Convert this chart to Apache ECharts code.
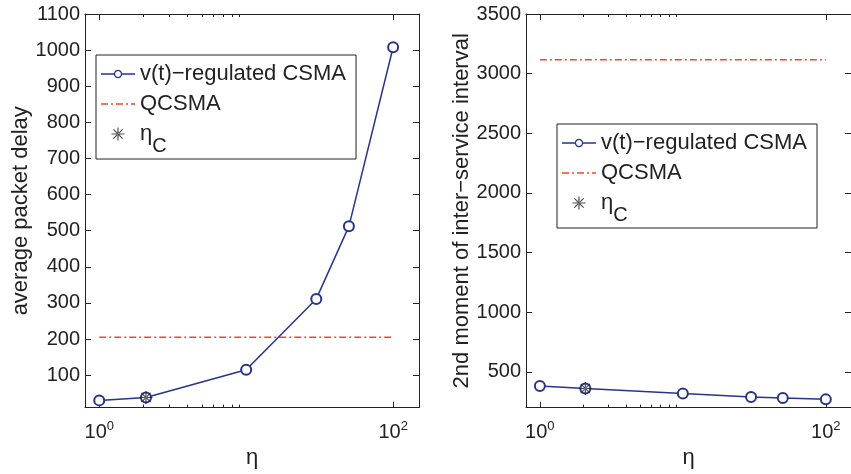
<!DOCTYPE html>
<html>
<head>
<meta charset="utf-8">
<script src="https://cdn.jsdelivr.net/npm/echarts@6/dist/echarts.min.js"></script>
<style>
  html, body { margin: 0; padding: 0; background: #fff; }
  #chart { width: 851px; height: 474px; }
</style>
</head>
<body>
<div id="chart"></div>
<script>
// eta values (x, log scale)
const etaValues = [1, 2.08, 10, 30, 50, 100]
// left panel: average packet delay
const delayValues = [30, 38, 115, 311, 512, 1008]
const qcsmaDelay = 205
// right panel: 2nd moment of inter-service interval
const momentValues = [382, 360, 318, 288, 280, 269]
const qcsmaMoment = 3117
// eta_C marker
const etaC = 2.08
const etaCDelay = 38
const etaCMoment = 360
// axis ticks
const xMajorTicks = [1, 100]
const xMinorTicks = [2, 3, 4, 5, 6, 7, 8, 9]
const delayTicks = [100, 200, 300, 400, 500, 600, 700, 800, 900, 1000, 1100]
const momentTicks = [500, 1000, 1500, 2000, 2500, 3000, 3500]
const names = ['v(t)\u2212regulated CSMA', 'QCSMA', '\u03b7C']

const FONT = '"Liberation Sans", Arial, Helvetica, sans-serif'
const INK = '#222'
const BLUE = '#27338f'
const RED = '#f04a22'

// asterisk made of thin filled bars
const ASTERISK = 'path://M-0.09,-1L0.09,-1L0.09,1L-0.09,1Z' +
  'M-1,-0.09L1,-0.09L1,0.09L-1,0.09Z' +
  'M-0.643,-0.771L0.771,0.643L0.643,0.771L-0.771,-0.643Z' +
  'M-0.643,0.771L0.771,-0.643L0.643,-0.771L-0.771,0.643Z'

// legend icons: line with hollow circle, dash-dot line
function ringIcon () {
  let cx = 17, cy = 4.2, ro = 4.2, ri = 2.9, n = 24
  let outer = [], inner = []
  for (let i = 0; i < n; i++) {
    let a = i / n * Math.PI * 2
    outer.push((cx + ro * Math.cos(a)).toFixed(2) + ',' + (cy + ro * Math.sin(a)).toFixed(2))
    inner.push((cx + ri * Math.cos(-a)).toFixed(2) + ',' + (cy + ri * Math.sin(-a)).toFixed(2))
  }
  let h = 0.7
  return 'path://M' + outer.join('L') + 'Z' +
    'M' + inner.join('L') + 'Z' +
    'M0,' + (cy - h) + 'L' + (cx - ro + 0.3) + ',' + (cy - h) + 'L' + (cx - ro + 0.3) + ',' + (cy + h) + 'L0,' + (cy + h) + 'Z' +
    'M' + (cx + ro - 0.3) + ',' + (cy - h) + 'L34,' + (cy - h) + 'L34,' + (cy + h) + 'L' + (cx + ro - 0.3) + ',' + (cy + h) + 'Z'
}
const DASHDOT = 'path://M0,0h7v1.4h-7z M10,0h2v1.4h-2z M15,0h7v1.4h-7z M25,0h2v1.4h-2z M30,0h4v1.4h-4z'

function xAxes (g) {
  let base = {
    type: 'log', logBase: 10, min: 0.8, max: 150, gridIndex: g,
    splitLine: { show: false }
  }
  return [
    Object.assign({}, base, {
      position: 'bottom',
      name: '\u03b7', nameLocation: 'middle', nameGap: 30,
      nameTextStyle: { fontSize: 22, color: INK, fontFamily: FONT },
      axisLine: { onZero: false, lineStyle: { color: INK, width: 1 } },
      axisTick: { inside: true, length: 6, customValues: xMajorTicks, lineStyle: { color: INK } },
      axisLabel: {
        customValues: xMajorTicks, margin: 12,
        formatter: v => '{b|10}{s|' + Math.round(Math.log10(v)) + '}',
        rich: {
          b: { fontSize: 20, color: INK, fontFamily: FONT },
          s: { fontSize: 13, color: INK, fontFamily: FONT, padding: [0, 0, 12, 0] }
        }
      }
    }),
    Object.assign({}, base, {
      position: 'bottom',
      axisLine: { show: false },
      axisTick: { inside: true, length: 3, customValues: xMinorTicks, lineStyle: { color: INK } },
      axisLabel: { show: false }
    }),
    Object.assign({}, base, {
      position: 'top',
      axisLine: { onZero: false, lineStyle: { color: INK, width: 1 } },
      axisTick: { inside: true, length: 6, customValues: xMajorTicks, lineStyle: { color: INK } },
      axisLabel: { show: false }
    }),
    Object.assign({}, base, {
      position: 'top',
      axisLine: { show: false },
      axisTick: { inside: true, length: 3, customValues: xMinorTicks, lineStyle: { color: INK } },
      axisLabel: { show: false }
    })
  ]
}

function yAxes (g, min, max, ticks, name, gap) {
  let base = { type: 'value', min: min, max: max, gridIndex: g, splitLine: { show: false } }
  return [
    Object.assign({}, base, {
      position: 'left',
      name: name, nameLocation: 'middle', nameGap: gap,
      nameTextStyle: { fontSize: 22, color: INK, fontFamily: FONT },
      axisLine: { show: true, onZero: false, lineStyle: { color: INK, width: 1 } },
      axisTick: { show: true, inside: true, length: 6, customValues: ticks, lineStyle: { color: INK } },
      axisLabel: {
        customValues: ticks, margin: 5, fontSize: 20, color: INK, fontFamily: FONT,
        formatter: v => String(v)
      }
    }),
    Object.assign({}, base, {
      position: 'right',
      axisLine: { show: true, onZero: false, lineStyle: { color: INK, width: 1 } },
      axisTick: { show: true, inside: true, length: 6, customValues: ticks, lineStyle: { color: INK } },
      axisLabel: { show: false }
    })
  ]
}

function panelSeries (g, values, qcsma, starY) {
  let xi = g * 4
  let yi = g * 2
  return [
    {
      name: names[0], type: 'line', xAxisIndex: xi, yAxisIndex: yi,
      data: etaValues.map((x, i) => [x, values[i]]),
      symbol: 'emptyCircle', symbolSize: 10,
      lineStyle: { color: BLUE, width: 1.5 },
      itemStyle: { color: BLUE, borderWidth: 1.5 },
      z: 3
    },
    {
      name: names[1], type: 'line', xAxisIndex: xi, yAxisIndex: yi,
      data: [[etaValues[0], qcsma], [etaValues[etaValues.length - 1], qcsma]],
      symbol: 'none',
      lineStyle: { color: RED, width: 1.5, type: [7, 3, 2, 3] },
      itemStyle: { color: RED },
      z: 2
    },
    {
      name: names[2], type: 'scatter', xAxisIndex: xi, yAxisIndex: yi,
      data: [[etaC, starY]],
      symbol: ASTERISK, symbolSize: 13, symbolKeepAspect: true,
      itemStyle: { color: INK },
      z: 4
    }
  ]
}

function legendAt (left, top) {
  return {
    left: left, top: top, orient: 'vertical',
    data: [
      { name: names[0], icon: ringIcon() },
      { name: names[1], icon: DASHDOT },
      { name: names[2], icon: ASTERISK }
    ],
    backgroundColor: '#fff', borderColor: INK, borderWidth: 1, borderRadius: 0,
    padding: [8, 10, 3, 5],
    itemWidth: 34, itemHeight: 13, itemGap: 8,
    selectedMode: false,
    textStyle: {
      fontSize: 22, color: INK, fontFamily: FONT,
      rich: {
        e: { fontSize: 22, color: INK, fontFamily: FONT },
        c: { fontSize: 20, color: INK, fontFamily: FONT, padding: [24, 0, 0, 0] }
      }
    },
    formatter: n => n === names[2] ? '{e|\u03b7}{c|C}' : n
  }
}

let chart = echarts.init(document.getElementById('chart'))
chart.setOption({
  animation: false,
  backgroundColor: '#fff',
  grid: [
    { left: 85, top: 14, right: 432, bottom: 60 },
    { left: 526, top: 14, right: -9, bottom: 60 }
  ],
  legend: [legendAt(96, 55), legendAt(557, 124)],
  xAxis: xAxes(0).concat(xAxes(1)),
  yAxis: yAxes(0, 10, 1100, delayTicks, 'average packet delay', 44)
    .concat(yAxes(1, 200, 3500, momentTicks, '2nd moment of inter\u2212service interval', 52)),
  series: panelSeries(0, delayValues, qcsmaDelay, etaCDelay)
    .concat(panelSeries(1, momentValues, qcsmaMoment, etaCMoment))
})
</script>
</body>
</html>
